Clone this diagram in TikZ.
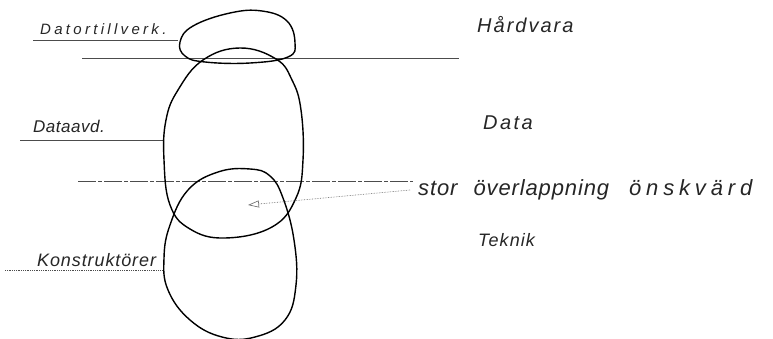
\documentclass[tikz,border=0pt]{standalone}
\usepackage{fontspec}
\setmainfont{Liberation Sans}
\newfontfamily\hand{Liberation Sans}
\usetikzlibrary{arrows.meta}
\newcommand{\lsp}[1]{\addfontfeatures{LetterSpace=#1}}
\tikzset{
  lbl/.style={inner sep=0pt, text=black!85, anchor=base west},
  rule/.style={draw=black!70, line width=0.8pt},
  blob/.style={draw=black, line width=1.4pt},
  pointer/.style={draw=black!60, line width=0.6pt, densely dotted, -{Triangle[open, length=11pt, width=7pt]}}
}
\begin{document}
\begin{tikzpicture}[x=1pt,y=-1pt]
\useasboundingbox (0,0) rectangle (773,339);
\fill[white] (0,0) rectangle (773,339);

% labels
\node[lbl, font=\hand\itshape\fontsize{15}{17}\selectfont\lsp{22}] (dt) at (40,35) {Datortillverk.};
\node[lbl, font=\hand\itshape\fontsize{20}{22}\selectfont\lsp{10}] (hw) at (477,33) {Hårdvara};
\node[lbl, font=\hand\itshape\fontsize{17}{19}\selectfont\lsp{3}] (da) at (33,133) {Dataavd.};
\node[lbl, font=\hand\itshape\fontsize{20}{22}\selectfont\lsp{12}] (dat) at (483,130) {Data};
\node[lbl, font=\hand\itshape\fontsize{22}{24}\selectfont\lsp{4}] (stor) at (418,195) {stor\hspace{16pt}överlappning\hspace{20pt}{\lsp{22}önskvärd}};
\node[lbl, font=\hand\itshape\fontsize{18}{20}\selectfont\lsp{6}] (tek) at (478,246) {Teknik};
\node[lbl, font=\hand\itshape\fontsize{18}{20}\selectfont\lsp{5}] (ko) at (37,266) {Konstruktörer};

% rules
\draw[rule] (33,40) -- (178,40);
\draw[rule] (82,58) -- (459,58);
\draw[rule] (20,140) -- (163,140);
\draw[rule, dash pattern=on 18pt off 2pt on 4pt off 2pt] (78,181) -- (413,181);
\draw[rule, densely dotted] (5,270) -- (163,270);

% blobs
\draw[blob] plot[smooth cycle, tension=0.7] coordinates {
  (180,42) (193,26) (230,13) (262,11) (287,21) (295,43) (288,57) (250,63) (205,62) (185,56)};
\draw[blob] plot[smooth cycle, tension=0.7] coordinates {
  (240,48) (276,59) (292,80) (301,110) (303,160) (296,198) (272,227) (225,238) (190,229) (170,205) (164,160) (166,120) (178,90) (203,60)};
\draw[blob] plot[smooth cycle, tension=0.7] coordinates {
  (250,169) (270,176) (283,198) (294,240) (296,285) (285,320) (255,337) (222,337) (190,320) (168,290) (164,258) (170,225) (188,190) (218,172)};

% arrow
\coordinate (tip) at (248,205);
\coordinate (tail) at (410,190);
\draw[pointer] (tail) -- (tip);
\end{tikzpicture}
\end{document}
